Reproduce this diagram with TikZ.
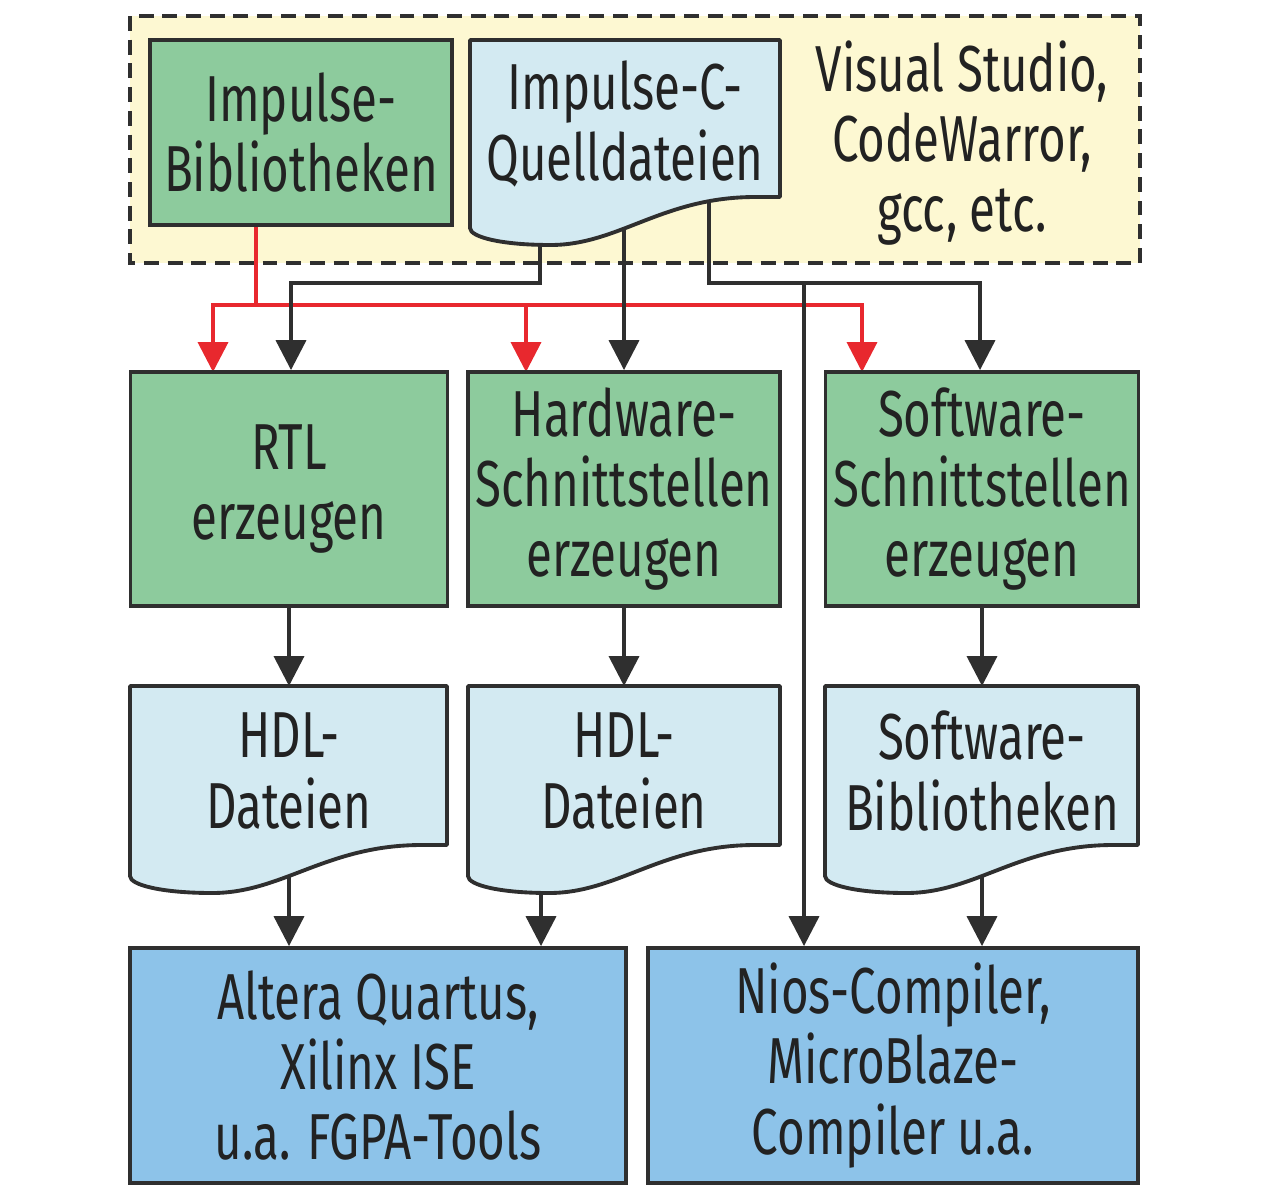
\documentclass[tikz,border=0pt]{standalone}
\usepackage{fontspec}
\setmainfont[FakeStretch=0.73]{Fira Sans}
\usetikzlibrary{arrows.meta}
\pgfdeclarelayer{bg}\pgfdeclarelayer{conn}
\pgfsetlayers{bg,conn,main}
\definecolor{gfill}{HTML}{8DCB9D}
\definecolor{dfill}{HTML}{D3EAF2}
\definecolor{bfill}{HTML}{8DC3E9}
\definecolor{yfill}{HTML}{FDF8D2}
\definecolor{edge}{HTML}{2F2F2F}
\definecolor{redc}{HTML}{E8282E}
\definecolor{txt}{HTML}{222222}
\newcommand\docshape[4]{%
  \fill[dfill,draw=edge,line width=2.2pt,line join=round]
  (#1,#2) -- (#3,#2) -- (#3,#4) -- ({#3-0.08*(#3-#1)},#4)
  .. controls ({#3-0.38*(#3-#1)},#4) and ({#1+0.48*(#3-#1)},{#4+48}) .. ({#1+0.26*(#3-#1)},{#4+48})
  .. controls ({#1+0.1*(#3-#1)},{#4+48}) and (#1,{#4+40}) .. (#1,{#4+31}) -- cycle;}
\begin{document}
\begin{tikzpicture}[x=0.02cm,y=-0.02cm,
  every node/.style={font=\fontsize{37}{40}\selectfont,text=txt,align=center,inner sep=0pt},
  gbox/.style={draw=edge,fill=gfill,line width=2.2pt},
  bbox/.style={draw=edge,fill=bfill,line width=2.2pt},
  conn/.style={draw=edge,line width=2.2pt,-{Triangle[length=17pt,width=17pt]}},
  rconn/.style={draw=redc,line width=2.2pt,-{Triangle[length=17pt,width=17pt]}},
  rplain/.style={draw=redc,line width=2.2pt}]
\useasboundingbox (0,0) rectangle (1280,1190);
% yellow region
\begin{pgfonlayer}{bg}
\draw[fill=yfill,draw=edge,line width=2.8pt,dash pattern=on 8.5pt off 5pt] (130,16) rectangle (1140,263);
\end{pgfonlayer}
% top row
\node[gbox,minimum width=6.04cm,minimum height=3.7cm] (lib) at (301,132.5) {Impulse-\\Bibliotheken};
\docshape{470}{40}{780}{197}
\node (src) at (625,124) {Impulse-C-\\Quelldateien};
\node (vs) at (962,143) {Visual Studio,\\CodeWarror,\\gcc, etc.};
% row 2
\node[gbox,minimum width=6.34cm,minimum height=4.68cm] (rtl) at (289,489) {RTL\\erzeugen};
\node[gbox,minimum width=6.24cm,minimum height=4.68cm] (hw) at (624,489) {Hardware-\\Schnittstellen\\erzeugen};
\node[gbox,minimum width=6.26cm,minimum height=4.68cm] (sw) at (982,489) {Software-\\Schnittstellen\\erzeugen};
% row 3
\docshape{130}{686}{447}{845}
\node (hdla) at (289,771) {HDL-\\Dateien};
\docshape{468}{686}{780}{845}
\node (hdlb) at (624,771) {HDL-\\Dateien};
\docshape{825}{686}{1138}{845}
\node (swlib) at (982,771) {Software-\\Bibliotheken};
% row 4
\node[bbox,minimum width=9.92cm,minimum height=4.7cm] (alt) at (378,1065.5) {Altera Quartus,\\Xilinx ISE\\u.a. FGPA-Tools};
\node[bbox,minimum width=9.8cm,minimum height=4.7cm] (nios) at (893,1065.5) {Nios-Compiler,\\MicroBlaze-\\Compiler u.a.};
% connector points
\coordinate (rs) at (256,225);
\coordinate (rj) at (256,305);
\coordinate (r1) at (213,372);
\coordinate (r2) at (526,372);
\coordinate (r3) at (862,372);
\coordinate (s1) at (540,200);
\coordinate (s2) at (624,200);
\coordinate (s3) at (709,180);
\coordinate (bl) at (291,283);
\coordinate (br) at (980,283);
\coordinate (bn) at (804,283);
\coordinate (ta) at (289,686);
\coordinate (tb) at (624,686);
\coordinate (tc) at (982,686);
\coordinate (da) at (289,840);
\coordinate (db) at (541,840);
\coordinate (dc) at (982,840);
\begin{pgfonlayer}{conn}
\draw[rplain] (rs) -- (rj);
\draw[rconn] (rj) -| (r1);
\draw[rconn] (rj) -| (r2);
\draw[rconn] (rj) -| (r3);
\draw[conn] (s1) |- (bl) -- (rtl.north -| bl);
\draw[conn] (s2) -- (hw.north);
\draw[conn] (s3) |- (br) -- (sw.north -| br);
\draw[conn] (bn) -- (nios.north -| bn);
\draw[conn] (rtl.south) -- (ta);
\draw[conn] (hw.south) -- (tb);
\draw[conn] (sw.south) -- (tc);
\draw[conn] (da) -- (alt.north -| da);
\draw[conn] (db) -- (alt.north -| db);
\draw[conn] (dc) -- (nios.north -| dc);
\end{pgfonlayer}
\end{tikzpicture}
\end{document}
